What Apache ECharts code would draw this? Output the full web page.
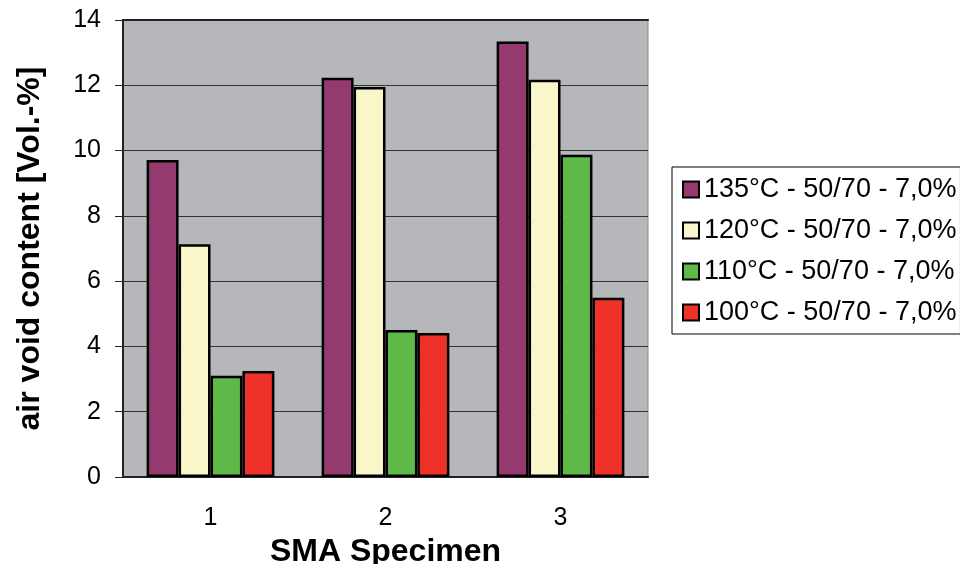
<!DOCTYPE html>
<html><head><meta charset="utf-8">
<script src="https://cdn.jsdelivr.net/npm/echarts@6/dist/echarts.min.js"></script>
<style>html,body{margin:0;padding:0;background:#fff}#c{width:960px;height:564px}</style>
</head><body><div id="c"></div>
<script>
const categories = ['1', '2', '3'];
const seriesNames = ['135°C - 50/70 - 7,0%', '120°C - 50/70 - 7,0%', '110°C - 50/70 - 7,0%', '100°C - 50/70 - 7,0%'];
const v135 = [9.71, 12.23, 13.34];
const v120 = [7.13, 11.95, 12.17];
const v110 = [3.10, 4.50, 9.87];
const v100 = [3.25, 4.41, 5.49];
const yTicks = [0, 2, 4, 6, 8, 10, 12, 14];
const colors = ['#943a6f', '#f9f7c9', '#5fb948', '#ee3229'];
const values = [v135, v120, v110, v100];
const font = 'Liberation Sans, Arial, sans-serif';
const chart = echarts.init(document.getElementById('c'), null, {renderer: 'canvas'});
chart.setOption({
  animation: false,
  backgroundColor: '#ffffff',
  textStyle: {fontFamily: font, color: '#000'},
  grid: {left: 123, top: 20, width: 525, height: 457, outerBoundsMode: 'none', containLabel: false, show: true, backgroundColor: '#b6b7bb', borderColor: '#8a8a8a', borderWidth: 1},
  legend: {
    orient: 'vertical', left: 672, top: 167,
    borderColor: '#000', borderWidth: 1, padding: [9, 4, 8, 10],
    icon: 'rect',
    itemWidth: 16, itemHeight: 16, itemGap: 14,
    textStyle: {fontSize: 27, color: '#000', fontFamily: font},
    data: seriesNames
  },
  xAxis: [{
    type: 'category', data: categories,
    name: 'SMA Specimen', nameLocation: 'middle', nameGap: 57,
    nameTextStyle: {fontSize: 32, fontWeight: 'bold', color: '#000', fontFamily: font},
    axisLine: {lineStyle: {color: '#222', width: 2}},
    axisTick: {length: 8, lineStyle: {color: '#222', width: 1}},
    axisLabel: {fontSize: 25, color: '#000', margin: 29, fontFamily: font}
  }, {
    type: 'category', data: categories, position: 'top',
    axisLine: {lineStyle: {color: '#222', width: 2}},
    axisTick: {show: false}, axisLabel: {show: false}
  }],
  yAxis: {
    type: 'value', min: yTicks[0], max: yTicks[yTicks.length - 1], interval: 2,
    name: 'air void content [Vol.-%]', nameLocation: 'middle', nameGap: 77, nameRotate: 90,
    nameTextStyle: {fontSize: 32, fontWeight: 'bold', color: '#000', fontFamily: font},
    axisLine: {show: true, lineStyle: {color: '#222', width: 2}},
    axisTick: {show: true, length: 8, lineStyle: {color: '#222', width: 1}},
    axisLabel: {fontSize: 25, color: '#000', margin: 22, fontFamily: font},
    splitLine: {lineStyle: {color: '#333', width: 1}}
  },
  series: seriesNames.map((n, i) => ({
    name: n, type: 'bar', data: values[i],
    barGap: '0%', barCategoryGap: '27%',
    itemStyle: {color: colors[i], borderColor: '#000', borderWidth: 2.5}
  }))
});
</script></body></html>
